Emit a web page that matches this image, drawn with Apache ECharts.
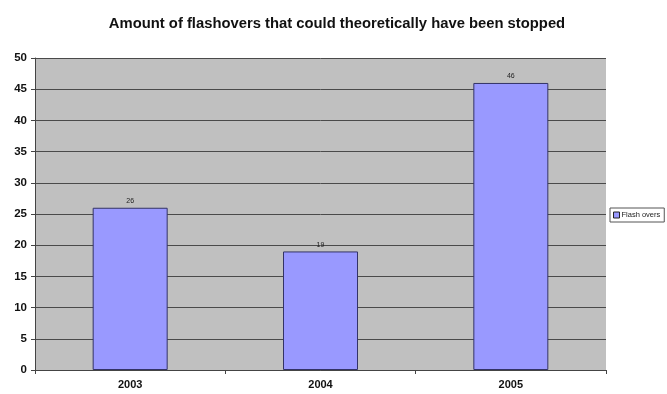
<!DOCTYPE html>
<html>
<head>
<meta charset="utf-8">
<script src="https://cdn.jsdelivr.net/npm/echarts@6/dist/echarts.min.js"></script>
<style>
  html, body { margin: 0; padding: 0; background: #fff; }
  #chart { width: 667px; height: 394px; }
</style>
</head>
<body>
<div id="chart"></div>
<script>
const years = ['2003', '2004', '2005'];
const flashOvers = [26, 19, 46];
const yTicks = [0, 5, 10, 15, 20, 25, 30, 35, 40, 45, 50];

const chart = echarts.init(document.getElementById('chart'));

chart.setOption({
  animation: false,
  title: {
    text: 'Amount of flashovers that could theoretically have been stopped',
    left: 332,
    top: 11,
    textAlign: 'center',
    textStyle: { fontFamily: 'Liberation Sans', fontSize: 14.8, fontWeight: 'bold', color: '#111' }
  },
  legend: {
    data: [{ name: 'Flash overs', icon: 'rect' }],
    left: 610,
    top: 208,
    orient: 'vertical',
    padding: [3, 4, 3, 3],
    itemWidth: 6,
    itemHeight: 6,
    itemGap: 2,
    borderColor: '#555',
    borderWidth: 1,
    textStyle: { fontFamily: 'Liberation Sans', fontSize: 7.5, color: '#222', padding: [0, 0, 0, -3] },
    itemStyle: { borderColor: '#222', borderWidth: 1 }
  },
  grid: {
    left: 35,
    right: 61,
    top: 58,
    bottom: 24,
    show: true,
    backgroundColor: '#c0c0c0',
    borderColor: '#c0c0c0',
    borderWidth: 0
  },
  xAxis: {
    type: 'category',
    data: years,
    axisLine: { lineStyle: { color: '#444', width: 1 } },
    axisTick: { show: true, length: 4, lineStyle: { color: '#444' } },
    axisLabel: { fontFamily: 'Liberation Sans', fontSize: 11, fontWeight: 'bold', color: '#111', margin: 9 }
  },
  yAxis: {
    type: 'value',
    min: yTicks[0],
    max: yTicks[yTicks.length - 1],
    interval: 5,
    axisLine: { show: true, lineStyle: { color: '#444', width: 1 } },
    axisTick: { show: true, length: 4, lineStyle: { color: '#444' } },
    axisLabel: { fontFamily: 'Liberation Sans', fontSize: 11.5, fontWeight: 'bold', color: '#111', margin: 8 },
    splitLine: { lineStyle: { color: '#4a4a4a', width: 1 } }
  },
  series: [{
    name: 'Flash overs',
    type: 'bar',
    data: flashOvers,
    barWidth: 75,
    itemStyle: { color: '#9999ff', borderColor: '#333366', borderWidth: 1 },
    label: {
      show: true,
      position: 'top',
      distance: 3,
      fontFamily: 'Liberation Sans',
      fontSize: 7,
      color: '#222'
    }
  }]
});
</script>
</body>
</html>
